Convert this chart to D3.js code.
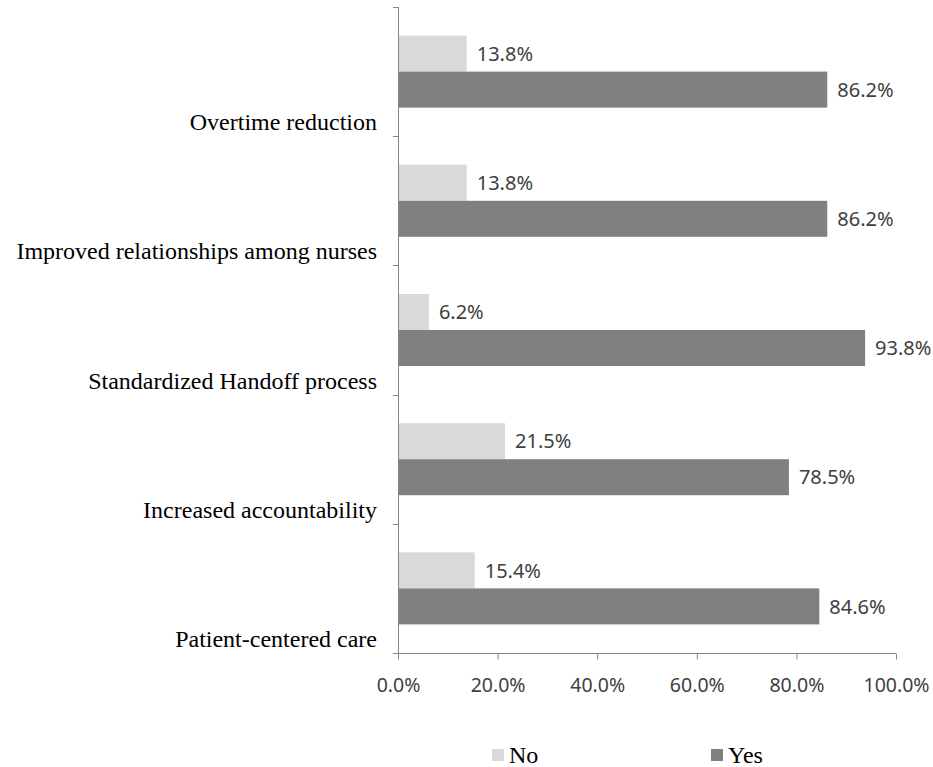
<!DOCTYPE html>
<html>
<head>
<meta charset="utf-8">
<script src="https://cdn.jsdelivr.net/npm/d3@7"></script>
<style>
  body { margin: 0; background: #fff; }
  svg { display: block; }
</style>
</head>
<body>
<div id="chart"></div>
<script>
// chart data
const categories = ["Overtime reduction", "Improved relationships among nurses", "Standardized Handoff process", "Increased accountability", "Patient-centered care"];
const seriesNames = ["No", "Yes"];
const noValues = [13.8, 13.8, 6.2, 21.5, 15.4];
const yesValues = [86.2, 86.2, 93.8, 78.5, 84.6];
const xTicks = [0, 20, 40, 60, 80, 100];

const colors = {No: "#d9d9d9", Yes: "#808080"};
const axisColor = "#868686";
const textColor = "#404040";

const width = 933, height = 767;
const margin = {top: 7, right: 37, bottom: 114, left: 398};

const svg = d3.select("#chart").append("svg")
    .attr("width", width)
    .attr("height", height);

const x = d3.scaleLinear()
    .domain([0, 100])
    .range([margin.left, width - margin.right]);

const y = d3.scaleBand()
    .domain(categories)
    .range([margin.top, height - margin.bottom]);

// two bars per category, sitting in the middle of the band
const ySub = d3.scaleBand()
    .domain(seriesNames)
    .range([0, y.bandwidth()])
    .paddingOuter(0.794);

const rows = categories.map((c, i) => ({cat: c, No: noValues[i], Yes: yesValues[i]}));

// bars
const groups = svg.selectAll(".cat")
    .data(rows)
    .enter()
    .append("g")
    .attr("class", "cat")
    .attr("transform", d => `translate(0,${y(d.cat)})`);

seriesNames.forEach(s => {
    groups.append("rect")
        .attr("x", x(0))
        .attr("y", ySub(s))
        .attr("width", d => x(d[s]) - x(0))
        .attr("height", ySub.bandwidth())
        .attr("fill", colors[s]);

    groups.append("text")
        .attr("x", d => x(d[s]) + 10)
        .attr("y", ySub(s) + ySub.bandwidth() / 2)
        .attr("dy", "0.36em")
        .attr("font-family", "'Noto Sans', sans-serif")
        .attr("font-size", 20)
        .attr("fill", textColor)
        .text(d => d[s].toFixed(1) + "%");
});

// vertical axis (category)
const yAxis = svg.append("g");
yAxis.append("line")
    .attr("x1", x(0) + 0.5).attr("x2", x(0) + 0.5)
    .attr("y1", margin.top).attr("y2", height - margin.bottom)
    .attr("stroke", axisColor);

const bounds = categories.map(c => y(c)).concat([y.range()[1]]);
yAxis.selectAll(".ytick")
    .data(bounds)
    .enter()
    .append("line")
    .attr("x1", x(0) - 5).attr("x2", x(0) + 0.5)
    .attr("y1", d => Math.round(d) + 0.5).attr("y2", d => Math.round(d) + 0.5)
    .attr("stroke", axisColor);

yAxis.selectAll(".ylabel")
    .data(categories)
    .enter()
    .append("text")
    .attr("x", x(0) - 21)
    .attr("y", d => y(d) + y.bandwidth() - 6)
    .attr("text-anchor", "end")
    .attr("font-family", "'Liberation Serif', 'Times New Roman', serif")
    .attr("font-size", 24)
    .attr("fill", "#000")
    .text(d => d);

// horizontal axis (value)
const xAxis = d3.axisBottom(x)
    .tickValues(xTicks)
    .tickSize(6)
    .tickFormat(d => d.toFixed(1) + "%");

const xg = svg.append("g")
    .attr("transform", `translate(0,${Math.round(height - margin.bottom) + 0.5})`)
    .call(xAxis);

xg.select(".domain").attr("stroke", axisColor).attr("d", `M${x(0)},0H${x(100)}`);
xg.selectAll(".tick line").attr("stroke", axisColor);
xg.selectAll(".tick text")
    .attr("font-family", "'Noto Sans', sans-serif")
    .attr("font-size", 19.5)
    .attr("fill", textColor)
    .attr("dy", "1.5em");

// legend
const legendX = {No: 492, Yes: 711};
const legend = svg.selectAll(".legend")
    .data(seriesNames)
    .enter()
    .append("g")
    .attr("transform", d => `translate(${legendX[d]},749)`);

legend.append("rect")
    .attr("width", 12).attr("height", 12)
    .attr("fill", d => colors[d]);

legend.append("text")
    .attr("x", 17)
    .attr("y", 14)
    .attr("font-family", "'Liberation Serif', 'Times New Roman', serif")
    .attr("font-size", 24)
    .attr("fill", "#000")
    .text(d => d);
</script>
</body>
</html>
